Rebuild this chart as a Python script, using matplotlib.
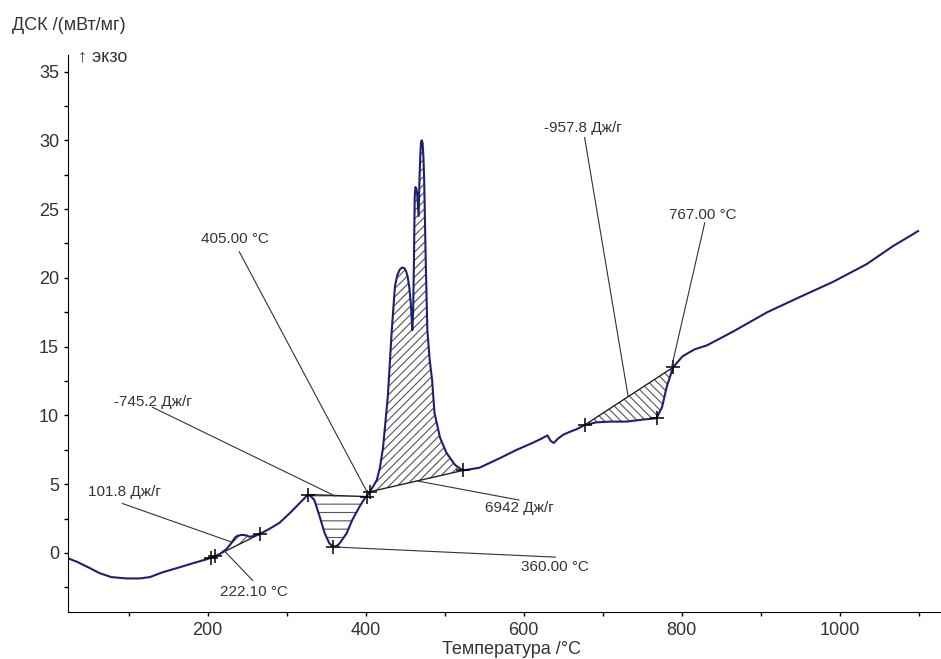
import matplotlib.pyplot as plt
import numpy as np

plt.rcParams['font.family'] = ['Liberation Sans', 'DejaVu Sans']
plt.rcParams['hatch.color'] = '#555555'
plt.rcParams['hatch.linewidth'] = 0.8

# DSC curve (temperature, mW/mg)
temp = np.array([
    23, 35, 51, 63, 78, 97, 114, 127, 143, 161, 181, 199, 204, 209, 216, 224,
    229, 232, 235, 238, 243, 249, 253, 257, 261, 266, 278, 291, 304, 316, 322,
    327, 331, 335, 342, 348, 354, 359, 363, 367, 376, 383, 392, 399, 401, 405,
    409, 414, 418, 422, 428, 433, 437, 440, 443, 446, 449, 451, 453, 455, 457,
    459, 460, 461, 462, 463, 464, 465, 467, 468, 469, 470, 471, 472, 473, 474,
    476, 478, 481, 484, 487, 494, 502, 513, 523, 544, 570, 591, 611, 622, 630,
    634, 638, 643, 650, 658, 667, 677, 692, 709, 730, 751, 768, 775, 781, 789,
    801, 816, 832, 865, 908, 949, 991, 1034, 1067, 1099])
dsc = np.array([
    -0.38, -0.65, -1.1, -1.46, -1.75, -1.85, -1.85, -1.75, -1.4, -1.1, -0.75,
    -0.45, -0.35, -0.25, -0.05, 0.3, 0.65, 0.9, 1.15, 1.25, 1.32, 1.28, 1.18,
    1.22, 1.3, 1.38, 1.75, 2.2, 2.9, 3.6, 3.95, 4.25, 4.1, 3.85, 2.6, 1.45,
    0.7, 0.44, 0.5, 0.7, 1.45, 2.4, 3.35, 4.0, 4.1, 4.45, 4.8, 5.3, 6.2, 7.7,
    11.4, 16.2, 19.4, 20.2, 20.6, 20.75, 20.7, 20.5, 20.1, 19.4, 18.2, 16.2,
    17.5, 21.1, 25.9, 26.6, 26.5, 26.2, 24.5, 27.1, 28.8, 29.9, 30.0, 29.8,
    28.8, 27.1, 21.1, 16.2, 14.0, 12.6, 10.2, 8.4, 7.3, 6.4, 6.0, 6.2, 6.9,
    7.5, 8.0, 8.3, 8.55, 8.15, 8.0, 8.3, 8.6, 8.8, 9.0, 9.3, 9.5, 9.55, 9.55,
    9.7, 9.8, 10.6, 12.1, 13.5, 14.3, 14.8, 15.1, 16.1, 17.5, 18.6, 19.7,
    21.0, 22.3, 23.4])

# integration baselines: (T1, y1, T2, y2, hatch)
peaks = [
    (209, -0.25, 266, 1.38, '////'),
    (327, 4.25, 401, 4.1, '--'),
    (405, 4.45, 523, 6.0, '////'),
    (677, 9.3, 789, 13.5, '\\\\\\\\'),
]

marker_t = [204, 209, 266, 327, 359, 401, 405, 523, 677, 768, 789]
marker_y = [-0.35, -0.25, 1.38, 4.25, 0.44, 4.1, 4.45, 6.0, 9.3, 9.8, 13.5]

# annotations: text, text pos, ha, va, leader start, leader end
notes = [
    ('101.8 Дж/г', (48, 4.4), 'left', 'center', (92, 3.6), (230, 0.8)),
    ('222.10 °C', (258, -2.85), 'center', 'center', (257, -2.0), (222, 0.1)),
    ('-745.2 Дж/г', (82, 11.0), 'left', 'center', (130, 10.6), (361, 4.15)),
    ('405.00 °C', (234, 22.8), 'center', 'center', (240, 21.9), (403, 4.3)),
    ('360.00 °C', (640, -1.0), 'center', 'center', (640, -0.3), (359, 0.44)),
    ('6942 Дж/г', (594, 3.3), 'center', 'center', (594, 3.85), (465, 5.24)),
    ('-957.8 Дж/г', (675, 30.9), 'center', 'center', (677, 30.2), (732, 11.4)),
    ('767.00 °C', (827, 24.6), 'center', 'center', (829, 24.0), (787, 13.5)),
]

fig = plt.figure(figsize=(9.41, 6.59), dpi=100)
ax = fig.add_axes([0.0723, 0.0713, 0.9277, 0.8452])

for t1, y1, t2, y2, h in peaks:
    m = (temp >= t1) & (temp <= t2)
    tt = temp[m]
    base = np.interp(tt, [t1, t2], [y1, y2])
    ax.fill_between(tt, dsc[m], base, facecolor='none', edgecolor='#555555',
                    hatch=h, linewidth=0)
    ax.plot([t1, t2], [y1, y2], color='#222222', lw=1.0)

ax.plot(temp, dsc, color='#1f1f70', lw=1.5)
ax.plot(marker_t, marker_y, '+', color='black', ms=10, mew=1.1)

for txt, pos, ha, va, p1, p2 in notes:
    ax.plot([p1[0], p2[0]], [p1[1], p2[1]], color='#333333', lw=0.8)
    ax.text(pos[0], pos[1], txt, ha=ha, va=va, fontsize=11, color='#333333')

ax.set_xlim(23.3, 1128)
ax.set_ylim(-4.29, 36.2)
ax.set_xticks([200, 400, 600, 800, 1000])
ax.set_xticks(np.arange(100, 1101, 100), minor=True)
ax.set_yticks(np.arange(0, 36, 5))
ax.set_yticks(np.arange(-2.5, 36, 2.5), minor=True)
ax.tick_params(which='major', length=3.2, width=1, labelsize=13,
               labelcolor='#333333')
ax.tick_params(axis='x', pad=4.2)
ax.tick_params(axis='y', pad=3.3)
ax.tick_params(which='minor', length=2.8, width=1)
for s in ['top', 'right']:
    ax.spines[s].set_visible(False)

fig.text(12 / 941, 1 - 25 / 659, 'ДСК /(мВт/мг)', ha='left', va='center',
         fontsize=13, color='#333333')
fig.text(78 / 941, 1 - 57 / 659, '↑ экзо', ha='left', va='center',
         fontsize=13, color='#333333')
fig.text(512 / 941, 1 - 650 / 659, 'Температура /°C', ha='center',
         va='center', fontsize=13, color='#333333')

fig.savefig('out.png', dpi=100)
